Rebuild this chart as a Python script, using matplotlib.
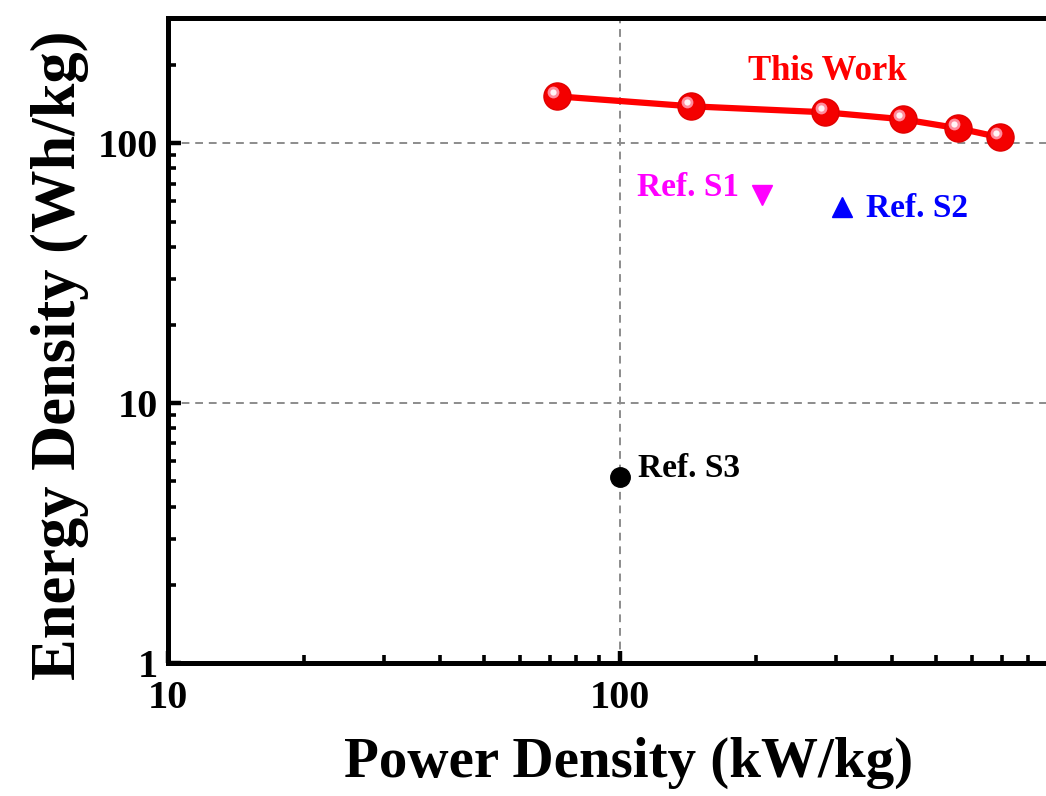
import matplotlib
matplotlib.use("Agg")
import matplotlib.pyplot as plt
import matplotlib.transforms as mtransforms
from matplotlib.ticker import LogLocator, FixedLocator, NullFormatter

# Ragone data (kW/kg, Wh/kg)
work_power = [72.6, 143.5, 284, 423, 560, 693]
work_energy = [151.6, 138.8, 131.6, 123.7, 114.2, 105.4]

s1_power, s1_energy = [206], [63]
s2_power, s2_energy = [310], [56.8]
s3_power, s3_energy = [100], [5.2]

x_ticks = [10, 100, 1000]
x_tick_labels = ['10', '100', '']
y_ticks = [1, 10, 100]
y_tick_labels = ['1', '10', '100']

plt.rcParams['font.family'] = ['Liberation Serif', 'DejaVu Serif']
plt.rcParams['font.weight'] = 'bold'

fig = plt.figure(figsize=(10.46, 7.96), dpi=100)
ax = fig.add_axes([0.1606, 0.167, 0.8643, 0.810])
ax.set_xscale('log')
ax.set_yscale('log')
ax.set_xlim(10, 1000)
ax.set_ylim(1, 302.6)

# gridlines only at decades
for xv in x_ticks[1:-1]:
    ax.axvline(xv, color='#8c8c8c', linestyle=(0, (4, 3)), linewidth=1.4, zorder=1)
for yv in y_ticks[1:]:
    ax.axhline(yv, color='#8c8c8c', linestyle=(0, (4, 3)), linewidth=1.4, zorder=1)

# This work: red spheres
ax.plot(work_power, work_energy, color='#ff0000', linewidth=4.5, zorder=3)
ax.plot(work_power, work_energy, linestyle='none', marker='o', markersize=19.5,
        color='#f40000', markeredgecolor='#e00000', markeredgewidth=1, zorder=4)
shine = mtransforms.offset_copy(ax.transData, fig=fig, x=-4, y=4, units='dots')
ax.plot(work_power, work_energy, linestyle='none', marker='o', markersize=8.5,
        color='#ff8c9c', markeredgewidth=0, transform=shine, zorder=5)
ax.plot(work_power, work_energy, linestyle='none', marker='o', markersize=4.5,
        color='#fff4f6', markeredgewidth=0, transform=shine, zorder=6)

ax.plot(s1_power, s1_energy, linestyle='none', marker='v', markersize=15,
        color='#ff00ff', zorder=4)
ax.plot(s2_power, s2_energy, linestyle='none', marker='^', markersize=15,
        color='#0000ff', zorder=4)
ax.plot(s3_power, s3_energy, linestyle='none', marker='o', markersize=14,
        color='black', zorder=4)

ax.text(0.729, 0.918, 'This Work', transform=ax.transAxes, color='#ff0000',
        fontsize=25, fontweight='bold', ha='center', va='center')
ax.text(s1_power[0] * 0.89, s1_energy[0] * 1.07, 'Ref. S1', color='#ff00ff',
        fontsize=24, fontweight='bold', ha='right', va='center')
ax.text(s2_power[0] * 1.13, s2_energy[0] * 0.99, 'Ref. S2', color='#0000ff',
        fontsize=24, fontweight='bold', ha='left', va='center')
ax.text(s3_power[0] * 1.094, s3_energy[0] * 1.08, 'Ref. S3', color='black',
        fontsize=24, fontweight='bold', ha='left', va='center')

# axes styling
for side in ['left', 'bottom', 'top', 'right']:
    ax.spines[side].set_linewidth(3.6)
ax.xaxis.set_major_locator(FixedLocator(x_ticks))
ax.yaxis.set_major_locator(FixedLocator(y_ticks))
ax.xaxis.set_minor_locator(LogLocator(base=10, subs=range(2, 10)))
ax.yaxis.set_minor_locator(LogLocator(base=10, subs=range(2, 10)))
ax.xaxis.set_minor_formatter(NullFormatter())
ax.yaxis.set_minor_formatter(NullFormatter())
ax.set_xticklabels(x_tick_labels)
ax.set_yticklabels(y_tick_labels)
ax.tick_params(which='major', direction='in', length=9, width=3.2, labelsize=29)
ax.tick_params(axis='x', which='major', pad=12)
ax.tick_params(axis='y', which='major', pad=7)
ax.tick_params(which='minor', direction='in', length=6, width=2.6)
ax.tick_params(which='both', top=False, right=False)

ax.set_xlabel('Power Density (kW/kg)', fontsize=41, fontweight='bold')
ax.set_ylabel('Energy Density (Wh/kg)', fontsize=45, fontweight='bold')
ax.xaxis.set_label_coords(0.509, -0.114)
ax.yaxis.set_label_coords(-0.087, 0.4775)

fig.savefig('out.png', dpi=100, facecolor='white')
